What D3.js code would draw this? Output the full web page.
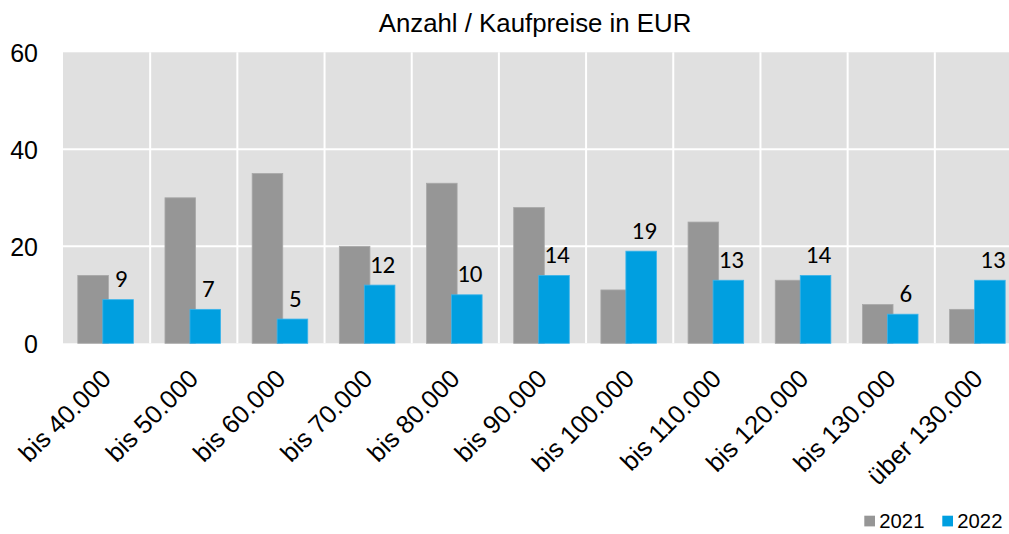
<!DOCTYPE html>
<html><head><meta charset="utf-8">
<script src="https://cdn.jsdelivr.net/npm/d3@7"></script>
<style>body{margin:0;background:#fff}svg{display:block}</style>
</head><body>
<svg id="c" width="1009" height="534"></svg>
<script>
const categories = ["bis 40.000","bis 50.000","bis 60.000","bis 70.000","bis 80.000","bis 90.000","bis 100.000","bis 110.000","bis 120.000","bis 130.000","über 130.000"];
const values2021 = [14,30,35,20,33,28,11,25,13,8,7];
const values2022 = [9,7,5,12,10,14,19,13,14,6,13];
const seriesNames = ["2021","2022"];
const yTicks = [0,20,40,60];
const title = "Anzahl / Kaufpreise in EUR";

const svg = d3.select("#c");
const L = 63, R = 1022, T = 52.3, B = 343.3;
const x = d3.scaleBand().domain(categories).range([L, R]).padding(0);
const y = d3.scaleLinear().domain([0, 60]).range([B, T]);
const colors = ["#969696", "#009fe0"];
const sans = "'Liberation Sans', Arial, sans-serif";

svg.append("rect").attr("x", L).attr("y", T).attr("width", R - L).attr("height", B - T).attr("fill", "#e0e0e0");

// grid
svg.append("g").selectAll("line").data(yTicks.filter(d => d > 0 && d < 60)).join("line")
  .attr("x1", L).attr("x2", R).attr("y1", d => y(d)).attr("y2", d => y(d))
  .attr("stroke", "#fff").attr("stroke-width", 2);
svg.append("g").selectAll("line").data(categories.slice(1)).join("line")
  .attr("x1", d => x(d)).attr("x2", d => x(d)).attr("y1", T).attr("y2", B)
  .attr("stroke", "#fff").attr("stroke-width", 2);

const bw = 30.6, ov = 5.6;
const xa0 = d => x(d) + x.bandwidth() / 2 - bw + ov / 2 - 1;
const xb0 = d => x(d) + x.bandwidth() / 2 - ov / 2 - 1;
const g = svg.append("g");
g.selectAll("rect.a").data(categories).join("rect").attr("class", "a")
  .attr("x", xa0)
  .attr("y", (d, i) => y(values2021[i]))
  .attr("width", bw).attr("height", (d, i) => B - y(values2021[i]))
  .attr("fill", colors[0]).attr("stroke", "#a8a8a8").attr("stroke-width", 0.8);
g.selectAll("rect.b").data(categories).join("rect").attr("class", "b")
  .attr("x", xb0)
  .attr("y", (d, i) => y(values2022[i]))
  .attr("width", bw).attr("height", (d, i) => B - y(values2022[i]))
  .attr("fill", colors[1]).attr("stroke", "#3cb4ea").attr("stroke-width", 0.8);

// data labels
g.selectAll("text.lbl").data(categories).join("text").attr("class", "lbl")
  .attr("x", d => xb0(d) + bw / 2 + 3)
  .attr("y", (d, i) => y(values2022[i]) - 12.5)
  .attr("text-anchor", "middle")
  .attr("font-family", "Carlito, Lato, 'Open Sans', sans-serif").attr("font-size", 25).attr("font-weight", 400)
  .attr("fill", "#000")
  .text((d, i) => values2022[i]);

// y axis
const yAxis = d3.axisLeft(y).tickValues(yTicks).tickSize(0).tickPadding(0);
const ya = svg.append("g").attr("transform", "translate(38,0)").call(yAxis);
ya.select(".domain").remove();
ya.selectAll("text").attr("font-family", sans).attr("font-size", 25).attr("fill", "#000").attr("dy", "0.36em");

// x axis
const xAxis = d3.axisBottom(x).tickSize(0).tickPadding(0);
const xa = svg.append("g").attr("transform", `translate(0,${B})`).call(xAxis);
xa.select(".domain").remove();
xa.selectAll("text")
  .attr("font-family", sans).attr("font-size", 25.5).attr("fill", "#000")
  .attr("text-anchor", "end").attr("dy", null).attr("y", 0)
  .attr("transform", "translate(6,37) rotate(-45)");

// title
svg.append("text").attr("x", 535).attr("y", 31.5).attr("text-anchor", "middle")
  .attr("font-family", sans).attr("font-size", 25.8).attr("fill", "#000").text(title);

// legend
const leg = svg.append("g");
const legX = [864.3, 942.3];
seriesNames.forEach((s, i) => {
  leg.append("rect").attr("x", legX[i]).attr("y", 515.7).attr("width", 10.7).attr("height", 10.7).attr("fill", colors[i]);
  leg.append("text").attr("x", legX[i] + 15).attr("y", 527.7)
    .attr("font-family", sans).attr("font-size", 20.3).attr("fill", "#000").text(s);
});
</script>
</body></html>
